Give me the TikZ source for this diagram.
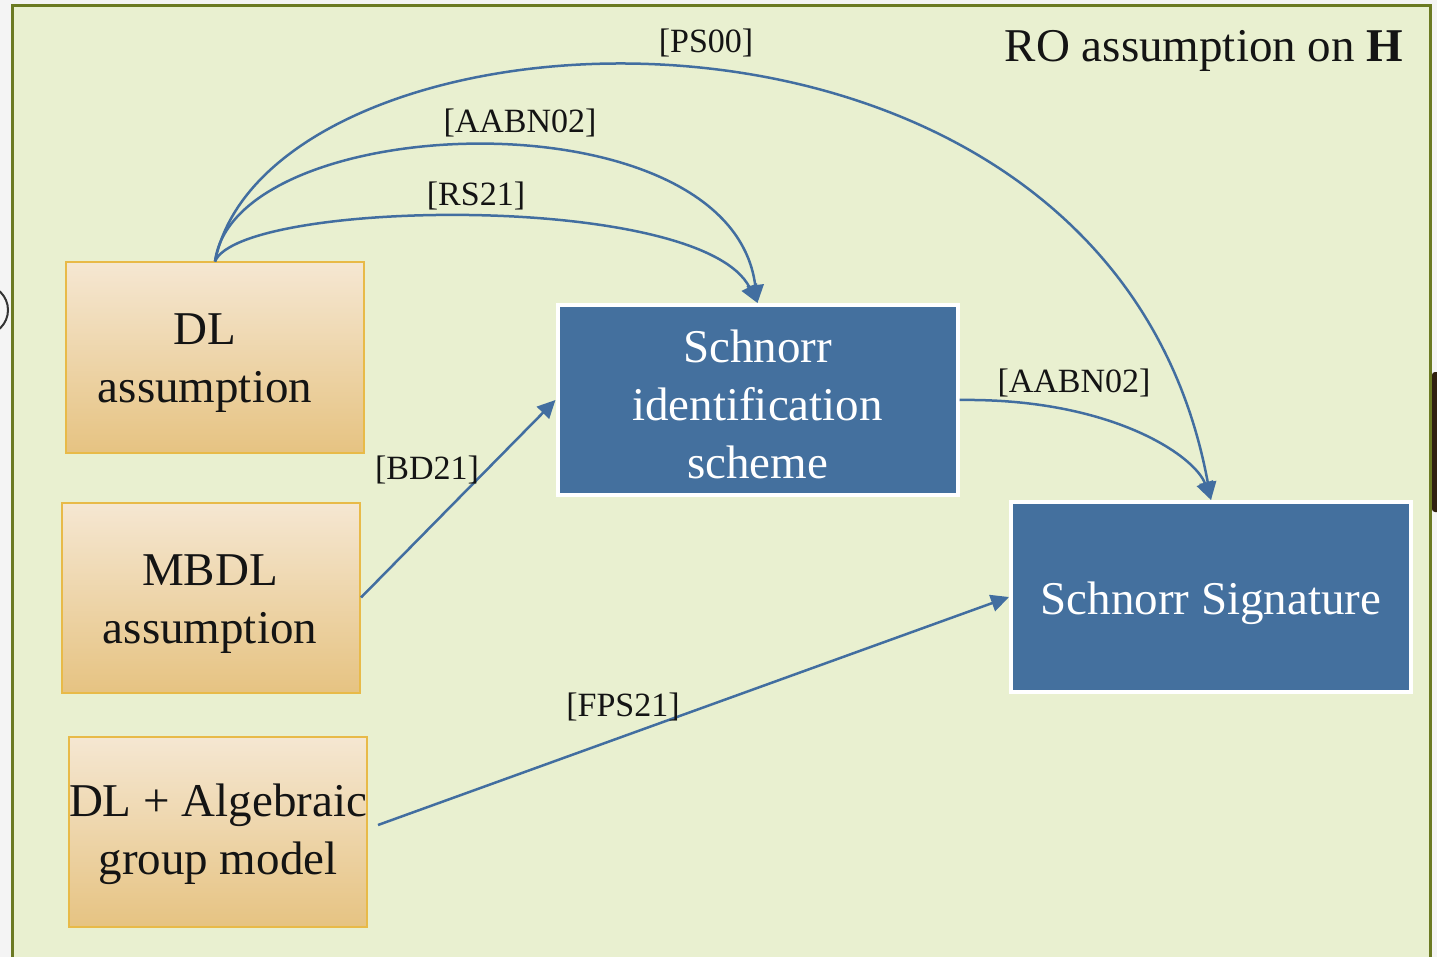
\documentclass[tikz,border=0pt]{standalone}
\usepackage{fontspec}
\setmainfont{Liberation Serif}
\usetikzlibrary{arrows.meta,calc}

\definecolor{pagebg}{RGB}{244,244,244}
\definecolor{panelfill}{RGB}{233,240,208}
\definecolor{panelline}{RGB}{107,122,34}
\definecolor{sandtop}{RGB}{245,231,210}
\definecolor{sandbot}{RGB}{230,195,130}
\definecolor{sandline}{RGB}{232,186,72}
\definecolor{schblue}{RGB}{68,112,158}
\definecolor{linkblue}{RGB}{66,110,160}
\definecolor{ink}{RGB}{20,20,20}

\tikzset{
  assume/.style={shade, top color=sandtop, bottom color=sandbot, draw=sandline,
    line width=2pt, minimum width=298pt, minimum height=190pt, inner sep=0pt},
  scheme/.style={fill=schblue, draw=white, line width=4pt, minimum width=400pt,
    minimum height=190pt, inner sep=0pt},
  boxtext/.style={inner sep=0pt, align=center, text=ink,
    font=\fontsize{47}{58}\selectfont},
  schemetext/.style={boxtext, text=white},
  link/.style={draw=linkblue, line width=2.5pt,
    -{Triangle[length=18pt,width=17pt]}},
  ref/.style={text=ink, inner sep=0pt, font=\fontsize{34}{38}\selectfont}
}

\begin{document}
\begin{tikzpicture}[x=1pt,y=-1pt]
  \useasboundingbox (0,0) rectangle (1437,957);
  \fill[pagebg] (0,0) rectangle (1437,957);

  % green panel for the random-oracle setting
  \filldraw[fill=panelfill, draw=panelline, line width=3pt] (12,6) rectangle (1430,975);

  % stray window-edge marks at the sides
  \draw[black!80, line width=2pt] (-17,310) circle (25pt);
  \fill[black!75!brown, rounded corners=3pt] (1432,372) rectangle (1448,512);

  \node[boxtext] (ro) at (1204,51) {RO assumption on \textbf{H}};

  % assumptions
  \node[assume] (dl)   at (215,357.5) {};
  \node[assume] (mbdl) at (211,597.5) {};
  \node[assume] (agm)  at (218,832)   {};
  \node[boxtext] (dltxt)   at (205,363) {DL\\assumption};
  \node[boxtext] (mbdltxt) at (210,604) {MBDL\\assumption};
  \node[boxtext] (agmtxt)  at (218,834) {DL + Algebraic\\group model};

  % schemes
  \node[scheme] (sid) at (757.5,400) {};
  \node[scheme] (sig) at (1211,597)  {};
  \node[schemetext] (sidtxt) at (757.5,404) {Schnorr\\identification\\scheme};
  \node[schemetext] (sigtxt) at (1211,603)  {Schnorr Signature};

  \coordinate (agmout) at (378,825);

  % reductions
  \draw[link] (dl.north) .. controls +(55,-272) and +(-103,-559) .. (sig.north);
  \draw[link] (dl.north) .. controls +(20,-152) and +(-27,-212) .. (sid.north);
  \draw[link] (dl.north) .. controls +(25,-62) and +(-57,-112) .. (sid.north);
  \draw[link] (mbdl.east) -- (sid.west);
  \draw[link] (sid.east) .. controls +(152,-2) and +(-16,-44) .. (sig.north);
  \draw[link] (agmout) -- (sig.west);

  % reference labels
  \node[ref] (ps)    at (706,43)   {[PS00]};
  \node[ref] (aabna) at (520,123)  {[AABN02]};
  \node[ref] (rs)    at (476,196)  {[RS21]};
  \node[ref] (bd)    at (427,470)  {[BD21]};
  \node[ref] (aabnb) at (1074,383) {[AABN02]};
  \node[ref] (fps)   at (623,707)  {[FPS21]};
\end{tikzpicture}
\end{document}
